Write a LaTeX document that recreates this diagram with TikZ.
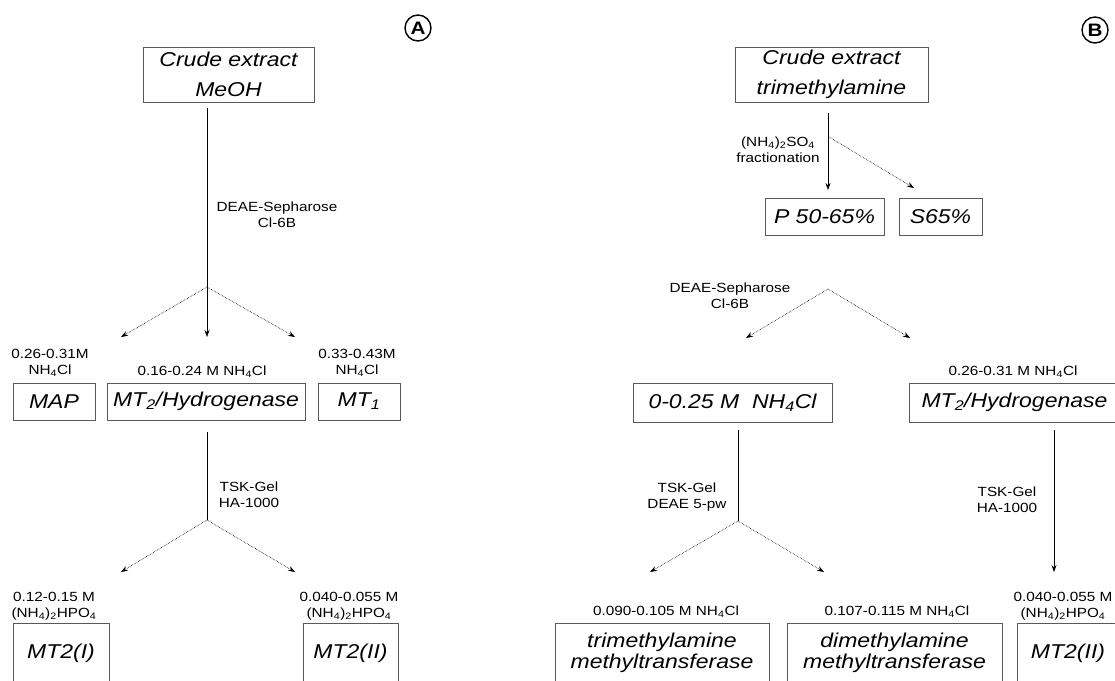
\documentclass[tikz,border=0pt]{standalone}
\usepackage{fontspec}
\setmainfont{Liberation Sans}[FakeStretch=1.15]
\usetikzlibrary{arrows.meta}
\begin{document}
\begin{tikzpicture}[x=1pt,y=-1pt]
        \tikzstyle{fraction}=[draw=black!65,line width=0.6pt,inner sep=0pt,align=center,font=\fontsize{20}{30}\selectfont\itshape]
        \tikzstyle{enzyme}=[fraction,font=\fontsize{20}{21}\selectfont\itshape]
        \tikzstyle{cond}=[inner sep=0pt,align=center,font=\fontsize{13.3}{16}\selectfont]
        \tikzstyle{panel}=[circle,draw,line width=1.4pt,inner sep=0pt,minimum size=26pt,font=\fontsize{18}{18}\selectfont\bfseries]
        \tikzstyle{edge}=[line width=0.6pt,-{Stealth[length=7pt,width=5pt]}]
        \tikzstyle{branch}=[edge,densely dotted]
        \useasboundingbox (0,0) rectangle (1115,680);
        \clip (0,0) rectangle (1115,680);
        % panel A
        \begin{scope}
           \node [panel] (labA) at (418,28) {A};
           \node [fraction,minimum width=171,minimum height=55] (crudeA) at (228.5,74.5) {Crude extract\\MeOH};
           \node [cond] (deaeA) at (277,215) {DEAE-Sepharose\\Cl-6B};
           \coordinate (forkA) at (207,287);
           \coordinate (tipmap) at (121,337);
           \coordinate (tipmid) at (207,337);
           \coordinate (tipone) at (295,337);
           \node [cond] (saltmap) at (50,363) {0.26-0.31M\\NH\textsubscript{4}Cl};
           \node [cond] (salthyd) at (202,372) {0.16-0.24 M NH\textsubscript{4}Cl};
           \node [cond] (saltone) at (357,363) {0.33-0.43M\\NH\textsubscript{4}Cl};
           \node [fraction,minimum width=82,minimum height=37] (map) at (54,401.5) {MAP};
           \node [fraction,minimum width=198,minimum height=37] (hydA) at (206,401.5) {MT\textsubscript{2}/Hydrogenase};
           \node [fraction,minimum width=82,minimum height=37] (mtone) at (359,401.5) {MT\textsubscript{1}};
           \node [cond] (tskA) at (249,495) {TSK-Gel\\HA-1000};
           \coordinate (forkA2) at (207,520);
           \coordinate (tipI) at (121,572);
           \coordinate (tipII) at (295,572);
           \node [cond] (saltI) at (54,606) {0.12-0.15 M\\(NH\textsubscript{4})\textsubscript{2}HPO\textsubscript{4}};
           \node [cond] (saltII) at (349,606) {0.040-0.055 M\\(NH\textsubscript{4})\textsubscript{2}HPO\textsubscript{4}};
           \node [enzyme,minimum width=96,minimum height=60] (mtIA) at (61,653) {MT2(I)};
           \node [enzyme,minimum width=95,minimum height=60] (mtIIA) at (350.5,653) {MT2(II)};
           \draw [edge,shorten <=6pt] (crudeA.south -| forkA) -- (tipmid);
           \draw [branch] (forkA) -- (tipmap);
           \draw [branch] (forkA) -- (tipone);
           \draw [line width=0.6pt] (hydA.south -| forkA2) ++(0,12) -- (forkA2);
           \draw [branch] (forkA2) -- (tipI);
           \draw [branch] (forkA2) -- (tipII);
        \end{scope}
        % panel B
        \begin{scope}
           \node [panel] (labB) at (1095,30) {B};
           \node [fraction,minimum width=193,minimum height=55] (crudeB) at (831.5,74.5) {Crude extract\\trimethylamine};
           \node [cond] (ammsulf) at (778,150) {(NH\textsubscript{4})\textsubscript{2}SO\textsubscript{4}\\fractionation};
           \coordinate (tipP) at (828,190);
           \coordinate (forkS) at (829,137);
           \coordinate (tipS) at (914,188);
           \node [fraction,minimum width=119,minimum height=37] (pfrac) at (824.5,216.5) {P 50-65\%};
           \node [fraction,minimum width=83,minimum height=37] (sfrac) at (940.5,216.5) {S65\%};
           \node [cond] (deaeB) at (730,296) {DEAE-Sepharose\\Cl-6B};
           \coordinate (forkB) at (828,289);
           \coordinate (tiplow) at (746,338);
           \coordinate (tiphyd) at (910,338);
           \node [cond] (salthydB) at (1013,372) {0.26-0.31 M NH\textsubscript{4}Cl};
           \node [fraction,minimum width=199,minimum height=39] (lowsalt) at (732.5,402.5) {0-0.25 M\ \ NH\textsubscript{4}Cl};
           \node [fraction,minimum width=211,minimum height=39] (hydB) at (1014.5,402.5) {MT\textsubscript{2}/Hydrogenase};
           \node [cond] (tskB) at (687,497) {TSK-Gel\\DEAE 5-pw};
           \coordinate (forkB2) at (738,521);
           \coordinate (tiptma) at (650,572);
           \coordinate (tipdma) at (824,572);
           \node [cond] (tskB2) at (1007,500) {TSK-Gel\\HA-1000};
           \coordinate (tipIIB) at (1054,572);
           \node [cond] (salttma) at (666,612) {0.090-0.105 M NH\textsubscript{4}Cl};
           \node [cond] (saltdma) at (897,612) {0.107-0.115 M NH\textsubscript{4}Cl};
           \node [cond] (saltIIB) at (1063,606) {0.040-0.055 M\\(NH\textsubscript{4})\textsubscript{2}HPO\textsubscript{4}};
           \node [enzyme,minimum width=214,minimum height=60] (tmamt) at (662,653) {trimethylamine\\methyltransferase};
           \node [enzyme,minimum width=215,minimum height=60] (dmamt) at (894.5,653) {dimethylamine\\methyltransferase};
           \node [enzyme,minimum width=102,minimum height=60] (mtIIB) at (1068,653) {MT2(II)};
           \draw [edge,shorten <=11pt] (crudeB.south -| tipP) -- (tipP);
           \draw [branch] (forkS) -- (tipS);
           \draw [branch] (forkB) -- (tiplow);
           \draw [branch] (forkB) -- (tiphyd);
           \draw [line width=0.6pt] (lowsalt.south -| forkB2) ++(0,8) -- (forkB2);
           \draw [branch] (forkB2) -- (tiptma);
           \draw [branch] (forkB2) -- (tipdma);
           \draw [edge,shorten <=8pt] (hydB.south -| tipIIB) -- (tipIIB);
        \end{scope}
      \end{tikzpicture}
\end{document}
